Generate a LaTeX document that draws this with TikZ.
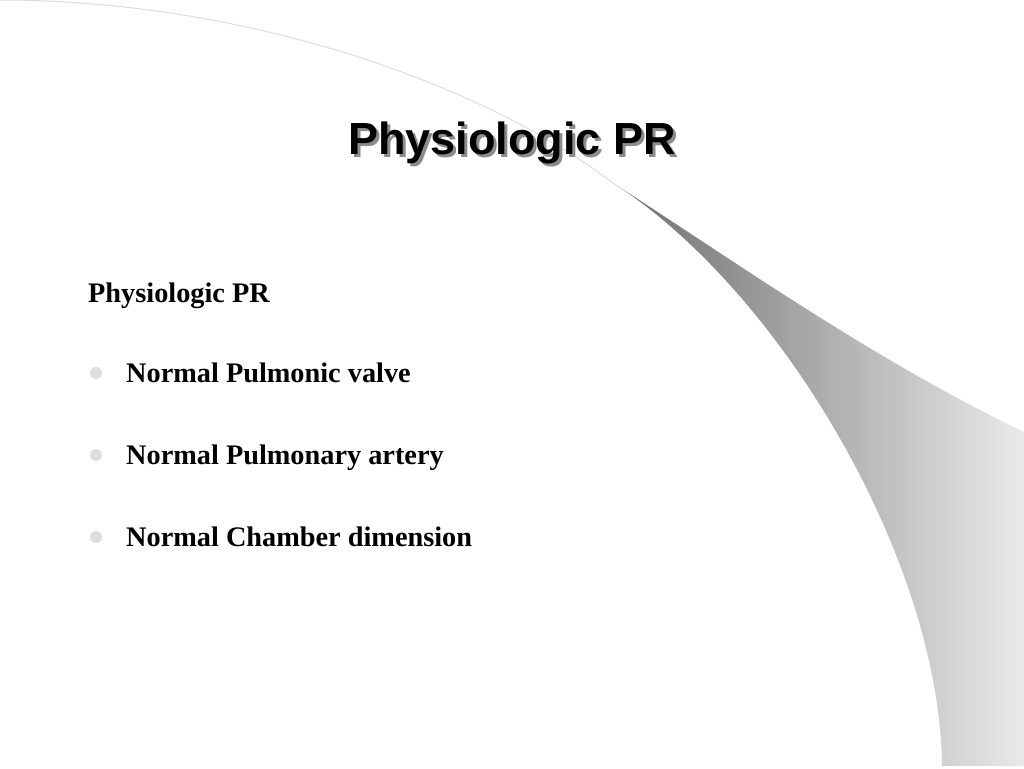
\documentclass[tikz,border=0pt]{standalone}
\usepackage{fontspec}
\setmainfont{Liberation Serif}
\newfontfamily\titlefont{Liberation Sans}
\definecolor{arcgray}{HTML}{DDDDDD}
\definecolor{swdark}{HTML}{6E6E6E}
\definecolor{swlight}{HTML}{E9E9E9}
\definecolor{shadowgray}{HTML}{8C8C8C}
\definecolor{bulletgray}{HTML}{DEDEDE}
\begin{document}
\begin{tikzpicture}[x=1pt,y=-1pt,
  body/.style={anchor=base west, inner sep=0pt, font=\fontsize{28.3}{32}\selectfont\bfseries},
  bulletdot/.style={circle, fill=bulletgray, minimum size=12pt, inner sep=0pt},
  titletext/.style={anchor=base, inner sep=0pt, font=\titlefont\fontsize{45}{50}\selectfont\bfseries}]
\useasboundingbox (0,0) rectangle (1024,768);
\fill[white] (0,0) rectangle (1024,768);
% swoosh
\shade[left color=swdark, right color=swlight]
  (613,183) .. controls (730,258) and (870,358) .. (1024,432)
  -- (1024,766) -- (942,766)
  .. controls (940,560) and (780,290) .. (613,183) -- cycle;
% thin arc
\draw[arcgray, line width=1pt] (0,0) .. controls (230,0) and (470,75) .. (613,183);
% title with shadow
\node[titletext, text=shadowgray] (titleshadow) at (515,157) {Physiologic PR};
\node[titletext] (title) at (512,154) {Physiologic PR};
% body
\node[body] (head) at (88,302) {Physiologic PR};
\node[bulletdot] (b1) at (96,373) {};
\node[body] (t1) at (126,382) {Normal Pulmonic valve};
\node[bulletdot] (b2) at (96,455) {};
\node[body] (t2) at (126,464) {Normal Pulmonary artery};
\node[bulletdot] (b3) at (96,537) {};
\node[body] (t3) at (126,546) {Normal Chamber dimension};
\end{tikzpicture}
\end{document}
